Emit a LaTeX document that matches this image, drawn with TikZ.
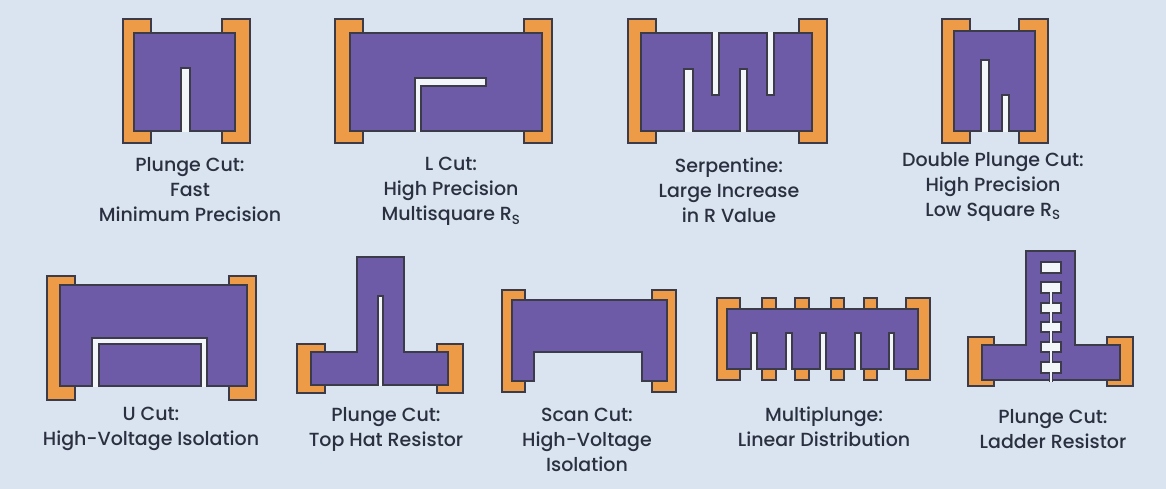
\documentclass[tikz,border=0pt]{standalone}
\usepackage{fontspec}
\setmainfont{Poppins Medium}
\usepackage{xcolor}
\definecolor{panelbg}{HTML}{D9E4F0}
\definecolor{bodyviolet}{HTML}{6D5BA8}
\definecolor{padorange}{HTML}{EE9B47}
\definecolor{edgegray}{HTML}{3B3B4A}
\definecolor{slotwhite}{HTML}{F3F6F9}
\definecolor{captionink}{HTML}{2B3040}
\tikzset{
    trimdiagram/.style={x=1pt, y=-1pt, line join=miter},
    pad/.style={draw=edgegray, fill=padorange, line width=1.3pt},
    resbody/.style={draw=edgegray, fill=bodyviolet, line width=1.3pt},
    slot/.style={fill=slotwhite},
    window/.style={draw=edgegray, fill=slotwhite, line width=1.1pt},
    caption/.style={align=center, text=captionink, inner sep=0pt, font=\fontsize{19}{25}\selectfont},
}

\begin{document}
\begin{tikzpicture}[trimdiagram]
    \fill[panelbg] (0,0) rectangle (1166,489);

    % contact pads: left x, right x, top y, bottom y
    \foreach \xa/\xb/\ya/\yb in {123/151/19/143, 222/250/19/143,
        335/363/19/143, 524/552/19/143,
        628/656/19/143, 799/827/19/143,
        942/970/19/143, 1019/1048/19/143,
        47/75/276/400, 229/256/276/400,
        297/325/344/393, 437/463/344/393,
        502/525/290/392, 652/676/290/392,
        717/740/298/380, 762/776/298/380, 795/809/298/380, 831/844/298/380,
        864/877/298/380, 906/930/298/380,
        968/994/337/386, 1107/1133/337/386}
        \draw[pad] (\xa,\ya) rectangle (\xb,\yb);

    % white behind the cuts
    \foreach \xa/\xb/\ya/\yb in {181/190/68/132, 415/421/78/132, 415/486/78/86,
        684/693/69/132, 740/747/69/132, 712/719/32/95, 767/774/32/95,
        981/989/60/132, 1002/1009/95/132,
        92/207/338/387, 378/383/296/386,
        751/757/333/370, 786/792/333/370, 820/826/333/370, 855/861/333/370, 889/894/333/370}
        \fill[slot] (\xa,\ya) rectangle (\xb,\yb);

    % top row
    \draw[resbody] (134,33) -- (235,33) -- (235,131) -- (190,131) -- (190,68) -- (181,68)
        -- (181,131) -- (134,131) -- cycle;
    \draw[resbody] (350,33) -- (542,33) -- (542,131) -- (421,131) -- (421,86) -- (486,86)
        -- (486,78) -- (415,78) -- (415,131) -- (350,131) -- cycle;
    \draw[resbody] (641,33) -- (712,33) -- (712,95) -- (719,95) -- (719,33) -- (767,33)
        -- (767,95) -- (774,95) -- (774,33) -- (812,33) -- (812,131) -- (747,131)
        -- (747,69) -- (740,69) -- (740,131) -- (693,131) -- (693,69) -- (684,69)
        -- (684,131) -- (641,131) -- cycle;
    \draw[resbody] (954,31) -- (1035,31) -- (1035,131) -- (1009,131) -- (1009,95) -- (1002,95)
        -- (1002,131) -- (989,131) -- (989,60) -- (981,60) -- (981,131) -- (954,131) -- cycle;

    % bottom row
    \draw[resbody] (60,285) -- (247,285) -- (247,386) -- (207,386) -- (207,338) -- (92,338)
        -- (92,386) -- (60,386) -- cycle;
    \draw[resbody] (99,344) rectangle (201,386);
    \draw[resbody] (357,257) -- (404,257) -- (404,352) -- (448,352) -- (448,385) -- (383,385)
        -- (383,296) -- (378,296) -- (378,385) -- (311,385) -- (311,352) -- (357,352) -- cycle;
    \draw[resbody] (512,300) -- (667,300) -- (667,381) -- (642,381) -- (642,352) -- (534,352)
        -- (534,381) -- (512,381) -- cycle;
    \draw[resbody] (727,309) -- (918,309) -- (918,369) -- (894,369) -- (894,333) -- (889,333)
        -- (889,369) -- (861,369) -- (861,333) -- (855,333) -- (855,369) -- (826,369)
        -- (826,333) -- (820,333) -- (820,369) -- (792,369) -- (792,333) -- (786,333)
        -- (786,369) -- (757,369) -- (757,333) -- (751,333) -- (751,369) -- (727,369) -- cycle;
    \draw[resbody] (1026,251) -- (1075,251) -- (1075,345) -- (1120,345) -- (1120,380)
        -- (982,380) -- (982,345) -- (1026,345) -- cycle;

    % ladder windows, thin cut joins all but the first
    \draw[window] (1049.5,290) rectangle (1052.5,381);
    \foreach \ya/\yb in {262/273, 282/293, 303/313, 322/332, 342/352, 362/373}
        \draw[window] (1041,\ya) rectangle (1061,\yb);
    \fill[slot] (1050,288) rectangle (1052,382);

    \node[caption] (plungelabel)  at (190,190) {Plunge Cut:\\Fast\\Minimum Precision};
    \node[caption] (lcutlabel)    at (451,191.5) {L Cut:\\High Precision\\Multisquare R\textsubscript{S}};
    \node[caption] (serplabel)    at (729,190.5) {Serpentine:\\Large Increase\\in R Value};
    \node[caption] (doublelabel)  at (993,187)   {Double Plunge Cut:\\High Precision\\Low Square R\textsubscript{S}};
    \node[caption] (ucutlabel)    at (151,429)   {U Cut:\\High-Voltage Isolation};
    \node[caption] (tophatlabel)  at (386,429)   {Plunge Cut:\\Top Hat Resistor};
    \node[caption] (scanlabel)    at (587,439.5) {Scan Cut:\\High-Voltage\\Isolation};
    \node[caption] (multilabel)   at (824,427)   {Multiplunge:\\Linear Distribution};
    \node[caption] (ladderlabel)  at (1053,429)  {Plunge Cut:\\Ladder Resistor};
\end{tikzpicture}
\end{document}
